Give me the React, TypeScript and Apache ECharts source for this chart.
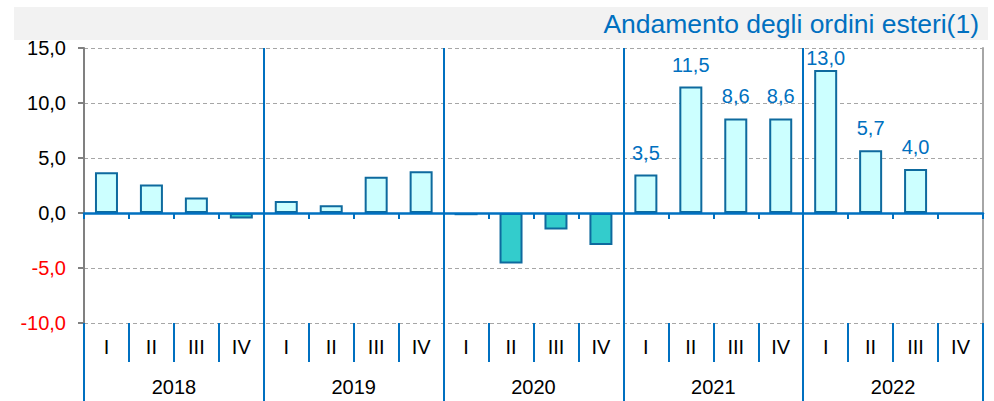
import React, { useEffect, useRef } from "react";
import * as echarts from "echarts";

const years = ["2018", "2019", "2020", "2021", "2022"];
const quarters = ["I", "II", "III", "IV"];
const values: (number | null)[] = [
  3.7, 2.6, 1.4, -0.5,
  1.1, 0.7, 3.3, 3.8,
  -0.2, -4.6, -1.5, -2.9,
  3.5, 11.5, 8.6, 8.6,
  13.0, 5.7, 4.0, null,
];
const labelledFrom = 12; // data labels shown from 2021 on
const yTicks = { min: -10, max: 15, interval: 5 };
const title = "Andamento degli ordini esteri(1)";

const fmt = (v: number) => v.toFixed(1).replace(".", ",");

export default function App() {
  const ref = useRef<HTMLDivElement>(null);
  useEffect(() => {
    if (!ref.current) return;
    const chart = echarts.init(ref.current, null, { renderer: "svg" });
    const qCats: string[] = [];
    years.forEach(() => quarters.forEach((q) => qCats.push(q)));
    const maxVal = Math.max(...(values.filter((v) => v != null) as number[]));
    const data = values.map((v, i) => {
      if (v == null) return null;
      return {
        value: v,
        itemStyle: { color: v < 0 ? "#33cccc" : "#ccffff" },
        label: {
          show: i >= labelledFrom,
          distance: v === maxVal ? 2 : 12,
        },
      };
    });
    const font = "'Liberation Sans', Arial, sans-serif";
    chart.setOption({
      animation: false,
      textStyle: { fontFamily: font },
      graphic: [
        {
          type: "rect",
          shape: { x: 14, y: 7, width: 974, height: 33 },
          style: { fill: "#f2f2f2" },
          z: -10,
        },
        {
          type: "text",
          x: 979,
          y: 24,
          style: {
            text: title,
            fill: "#0070c0",
            font: `26.5px ${font}`,
            align: "right",
            verticalAlign: "middle",
          },
        },
      ],
      grid: { left: 84, right: 11, top: 48, bottom: 78 },
      xAxis: [
        {
          type: "category",
          data: qCats,
          position: "bottom",
          axisLine: { onZero: true, lineStyle: { color: "#0070c0", width: 2.5 } },
          axisTick: { show: true, interval: 0, length: 6, lineStyle: { color: "#0070c0", width: 2 } },
          axisLabel: { show: false },
          splitLine: { show: false },
          z: 5,
        },
        {
          type: "category",
          data: qCats,
          position: "bottom",
          axisLine: { show: false, onZero: false },
          axisTick: { show: true, interval: 0, length: 39, lineStyle: { color: "#0070c0", width: 2 } },
          axisLabel: { show: true, interval: 0, margin: 14, color: "#000", fontSize: 20, fontFamily: font },
          splitLine: { show: false },
        },
        {
          type: "category",
          data: years,
          position: "bottom",
          axisLine: { show: false, onZero: false },
          axisTick: { show: true, interval: 0, length: 78, lineStyle: { color: "#0070c0", width: 2 } },
          axisLabel: { show: true, interval: 0, margin: 54, color: "#000", fontSize: 20, fontFamily: font },
          splitLine: {
            show: true,
            interval: 0,
            showMinLine: false,
            showMaxLine: false,
            lineStyle: { color: "#0070c0", width: 2 },
          },
        },
      ],
      yAxis: [
        {
          type: "value",
          min: yTicks.min,
          max: yTicks.max,
          interval: yTicks.interval,
          axisLine: { show: true, lineStyle: { color: "#808080", width: 2 } },
          axisTick: { show: true, length: 6, lineStyle: { color: "#808080", width: 2 } },
          axisLabel: {
            margin: 18,
            fontSize: 20,
            fontFamily: font,
            formatter: (v: number) => fmt(v),
            color: (v: any) => (Number(v) < 0 ? "#ff0000" : "#000000"),
          },
          splitLine: {
            show: true,
            showMinLine: true,
            lineStyle: { color: "#a6a6a6", width: 1, type: [4, 3] },
          },
        },
        {
          type: "value",
          position: "right",
          min: yTicks.min,
          max: yTicks.max,
          interval: yTicks.interval,
          axisLine: { show: true, lineStyle: { color: "#a6a6a6", width: 2 } },
          axisTick: { show: false },
          axisLabel: { show: false },
          splitLine: { show: false },
        },
      ],
      series: [
        {
          type: "bar",
          xAxisIndex: 0,
          yAxisIndex: 0,
          data,
          barWidth: 23,
          itemStyle: { borderColor: "#0e6a9e", borderWidth: 2 },
          label: {
            position: "top",
            color: "#0070c0",
            fontSize: 20,
            fontFamily: font,
            formatter: (p: any) => fmt(p.value),
          },
          z: 3,
        },
      ],
    });
    return () => chart.dispose();
  }, []);
  return (
    <div
      ref={ref}
      style={{ position: "absolute", left: 0, top: 0, width: 994, height: 401 }}
    />
  );
}
